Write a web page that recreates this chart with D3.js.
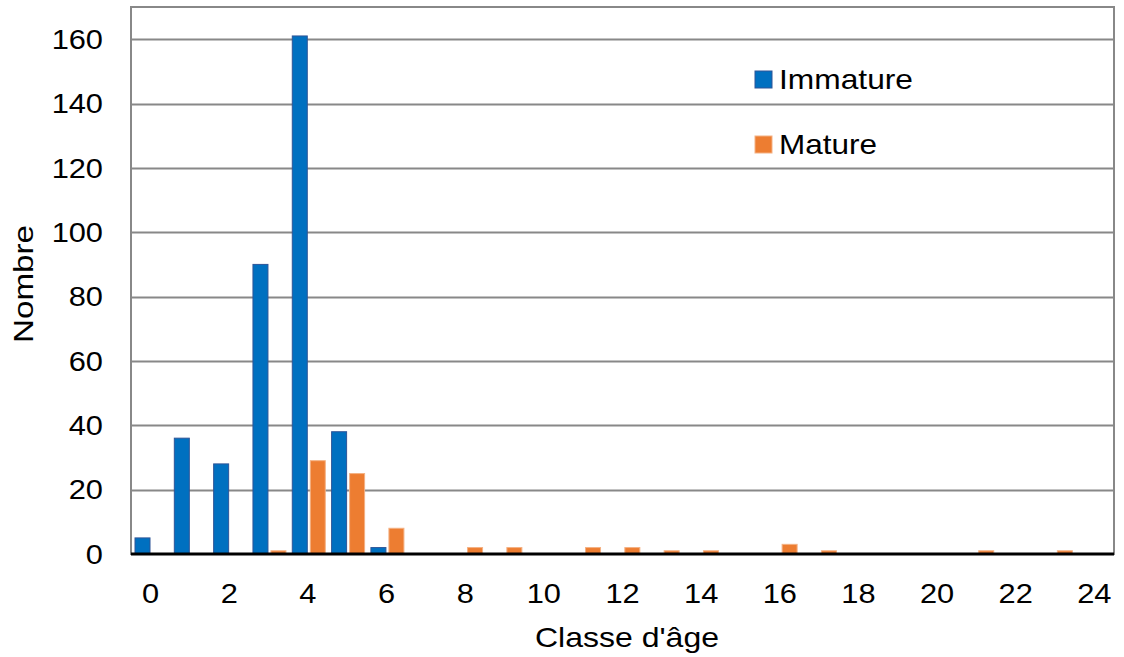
<!DOCTYPE html>
<html>
<head>
<meta charset="utf-8">
<script src="https://cdn.jsdelivr.net/npm/d3@7"></script>
<style>
  body { margin: 0; background: #fff; }
  text { font-family: "Liberation Sans", Arial, sans-serif; fill: #000; }
</style>
</head>
<body>
<div id="chart"></div>
<script>
const categories = d3.range(0, 25);
const immature = [5, 36, 28, 90, 161, 38, 2, 0, 0, 0, 0, 0, 0, 0, 0, 0, 0, 0, 0, 0, 0, 0, 0, 0, 0];
const mature   = [0, 0, 0, 1, 29, 25, 8, 0, 2, 2, 0, 2, 2, 1, 1, 0, 3, 1, 0, 0, 0, 1, 0, 1, 0];
const yTicks = [0, 20, 40, 60, 80, 100, 120, 140, 160];
const xTickLabels = [0, 2, 4, 6, 8, 10, 12, 14, 16, 18, 20, 22, 24];
const seriesNames = ["Immature", "Mature"];
const colors = { Immature: "#0070c0", Mature: "#ed7d31" };
const strokes = { Immature: "#2f5597", Mature: "#f4b183" };

const width = 1124, height = 657;
const margin = { left: 131, right: 10, top: 7, bottom: 103 };
const plotW = width - margin.left - margin.right;
const plotH = height - margin.top - margin.bottom;
const fs = 28, sx = 1.1;

const svg = d3.select("#chart").append("svg")
  .attr("width", width).attr("height", height);

const x = d3.scaleBand().domain(categories).range([0, plotW]).padding(0);
const x1 = d3.scaleBand().domain(seriesNames)
  .rangeRound([3, x.bandwidth() - 2]).paddingInner(0.18);
const y = d3.scaleLinear().domain([0, 170]).range([plotH, 0]);

const g = svg.append("g").attr("transform", `translate(${margin.left},${margin.top})`);

// gridlines
g.selectAll(".grid").data(yTicks.filter(d => d > 0)).enter().append("line")
  .attr("x1", 0).attr("x2", plotW)
  .attr("y1", d => Math.round(y(d)) + 0.5).attr("y2", d => Math.round(y(d)) + 0.5)
  .attr("stroke", "#888").attr("stroke-width", 2);

// frame
g.append("rect").attr("x", 0).attr("y", 0).attr("width", plotW).attr("height", plotH)
  .attr("fill", "none").attr("stroke", "#888").attr("stroke-width", 2);

// bars
const rows = categories.map((c, i) => ({ c, Immature: immature[i], Mature: mature[i] }));
const groups = g.selectAll(".grp").data(rows).enter().append("g")
  .attr("transform", d => `translate(${x(d.c)},0)`);
groups.selectAll("rect")
  .data(d => seriesNames.map(k => ({ k, v: d[k] })).filter(e => e.v > 0))
  .enter().append("rect")
  .attr("x", d => x1(d.k))
  .attr("width", x1.bandwidth())
  .attr("y", d => y(d.v))
  .attr("height", d => y(0) - y(d.v))
  .attr("fill", d => colors[d.k])
  .attr("stroke", d => strokes[d.k])
  .attr("stroke-width", 1);

// x axis baseline
g.append("line").attr("x1", 0).attr("x2", plotW).attr("y1", plotH).attr("y2", plotH)
  .attr("stroke", "#000").attr("stroke-width", 3);

// y tick labels
g.selectAll(".ylab").data(yTicks).enter().append("text")
  .attr("transform", d => `translate(-28,${y(d)}) scale(${sx},1)`)
  .attr("dy", "0.35em")
  .attr("text-anchor", "end").attr("font-size", fs).text(d => d);

// x tick labels
g.selectAll(".xlab").data(xTickLabels).enter().append("text")
  .attr("transform", d => `translate(${x(d) + x.bandwidth() / 2},${plotH + 49}) scale(${sx},1)`)
  .attr("text-anchor", "middle").attr("font-size", fs).text(d => d);

// axis titles
svg.append("text").attr("x", 627).attr("y", 647)
  .attr("text-anchor", "middle").attr("font-size", fs)
  .attr("textLength", 184).attr("lengthAdjust", "spacingAndGlyphs")
  .text("Classe d'âge");
svg.append("text").attr("transform", "translate(33,284) rotate(-90)")
  .attr("text-anchor", "middle").attr("font-size", fs)
  .attr("textLength", 118).attr("lengthAdjust", "spacingAndGlyphs")
  .text("Nombre");

// legend
const legendWidths = { Immature: 134, Mature: 98 };
const legend = svg.append("g").attr("transform", "translate(755,0)");
seriesNames.forEach((k, i) => {
  const cy = 79 + i * 65;
  legend.append("rect").attr("x", 0).attr("y", cy - 8).attr("width", 17).attr("height", 17)
    .attr("fill", colors[k]).attr("stroke", strokes[k]);
  legend.append("text").attr("x", 24).attr("y", cy).attr("dy", "0.35em")
    .attr("font-size", fs)
    .attr("textLength", legendWidths[k]).attr("lengthAdjust", "spacingAndGlyphs")
    .text(k);
});
</script>
</body>
</html>
